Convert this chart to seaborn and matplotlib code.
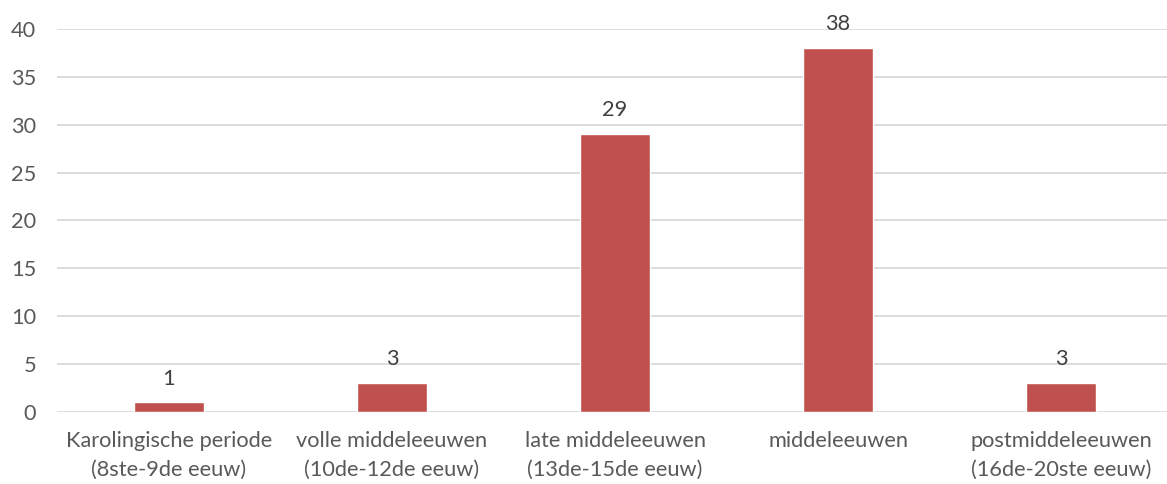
import matplotlib
matplotlib.use("Agg")
import matplotlib.pyplot as plt
import seaborn as sns
import pandas as pd

periods = [
    "Karolingische periode\n(8ste-9de eeuw)",
    "volle middeleeuwen\n(10de-12de eeuw)",
    "late middeleeuwen\n(13de-15de eeuw)",
    "middeleeuwen",
    "postmiddeleeuwen\n(16de-20ste eeuw)",
]
counts = [1, 3, 29, 38, 3]
y_ticks = [0, 5, 10, 15, 20, 25, 30, 35, 40]

sns.set_theme(style="white")
plt.rcParams["font.family"] = ["Lato", "DejaVu Sans"]

df = pd.DataFrame({"periode": periods, "aantal": counts})

fig = plt.figure(figsize=(11.67, 4.84), dpi=100)
ax = fig.add_axes([57 / 1167, (484 - 412) / 484, 1110 / 1167, (412 - 29) / 484])

sns.barplot(data=df, x="periode", y="aantal", color="#C0504D", saturation=1,
            width=0.314, ax=ax, zorder=3)

ax.set_xlim(-0.502, 4.475)
ax.set_ylim(0, 40)
ax.set_yticks(y_ticks)
ax.set_yticklabels([str(t) for t in y_ticks])
ax.grid(axis="y", color="#D9D9D9", linewidth=1.3, zorder=0)
for s in ax.spines.values():
    s.set_visible(False)

ax.set_xlabel("")
ax.set_ylabel("")
ax.tick_params(axis="both", length=0, labelsize=15.7, colors="#595959")
ax.tick_params(axis="y", pad=15)
ax.tick_params(axis="x", pad=14)
for lab in ax.get_yticklabels():
    lab.set_horizontalalignment("right")
for lab in ax.get_xticklabels():
    lab.set_linespacing(1.5)

for i, v in enumerate(counts):
    ax.annotate(str(v), (i, v), xytext=(0, 10), textcoords="offset points",
                ha="center", va="bottom", fontsize=15.7, color="#404040")

fig.savefig("out.png", dpi=100)
